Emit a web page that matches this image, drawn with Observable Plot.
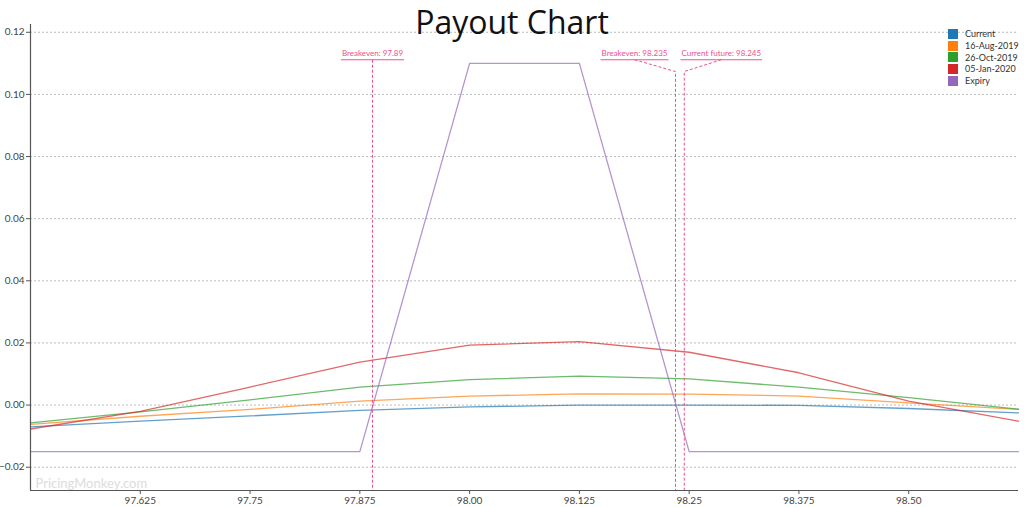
<!DOCTYPE html>
<html>
<head>
<meta charset="utf-8">
<script src="https://cdn.jsdelivr.net/npm/d3@7"></script>
<script src="https://cdn.jsdelivr.net/npm/@observablehq/plot@0.6"></script>
<style>
  html, body { margin: 0; padding: 0; background: #fff; }
  #wrap { position: relative; width: 1024px; height: 507px; overflow: hidden; }
  #title { position: absolute; left: 0; width: 1024px; top: 0px; text-align: center;
           font-family: "Open Sans", sans-serif; font-size: 32px; color: #111; pointer-events: none; }
  #legend { position: absolute; left: 948px; top: 28px; font-family: Lato, sans-serif; font-size: 9px; color: #333; }
  #legend .item { display: flex; align-items: center; height: 11.7px; }
  #legend .sw { width: 10px; height: 10px; margin-right: 7px; }
</style>
</head>
<body>
<div id="wrap">
  <div id="chart"></div>
  <div id="title">Payout Chart</div>
  <div id="legend"></div>
</div>
<script>
// ---- data ----
const strikes = [97.5, 97.625, 97.75, 97.875, 98.0, 98.125, 98.25, 98.375, 98.5, 98.625];
const seriesNames = ["Current", "16-Aug-2019", "26-Oct-2019", "05-Jan-2020", "Expiry"];
const seriesColors = ["#1f77b4", "#ff7f0e", "#2ca02c", "#d62728", "#9467bd"];
const current   = [-0.0070, -0.0052, -0.0035, -0.0017, -0.0006, 0.0000, 0.0000, -0.0001, -0.0011, -0.0025];
const aug2019   = [-0.0062, -0.0036, -0.0014,  0.0013,  0.0029, 0.0036, 0.0035,  0.0029,  0.0007, -0.0014];
const oct2019   = [-0.0057, -0.0022,  0.0017,  0.0058,  0.0082, 0.0093, 0.0084,  0.0058,  0.0024, -0.0013];
const jan2020   = [-0.0077, -0.0020,  0.0058,  0.0138,  0.0193, 0.0204, 0.0170,  0.0104,  0.0013, -0.0052];
const expiry    = [-0.015, -0.015, -0.015, -0.015, 0.11, 0.11, -0.015, -0.015, -0.015, -0.015];
const seriesValues = [current, aug2019, oct2019, jan2020, expiry];

const xTickValues = [97.625, 97.75, 97.875, 98.0, 98.125, 98.25, 98.375, 98.5];
const xTickLabels = ["97.625", "97.75", "97.875", "98.00", "98.125", "98.25", "98.375", "98.50"];
const yTickValues = [-0.02, 0.0, 0.02, 0.04, 0.06, 0.08, 0.10, 0.12];

const annX = [97.89, 98.235, 98.245];
const annLabels = ["Breakeven: 97.89", "Breakeven: 98.235", "Current future: 98.245"];
const annDx = [0, -41, 37];

const xDomain = [97.5, 98.625];
const yDomain = [-0.0275, 0.1225];

// ---- build table ----
const rows = [];
seriesNames.forEach((name, s) => {
  strikes.forEach((k, i) => rows.push({series: name, x: k, y: seriesValues[s][i]}));
});
const annotations = annX.map((x, i) => ({x, label: annLabels[i], dx: annDx[i]}));

const pink = "#f0508a";
const annFont = "8px Lato, sans-serif";
const measure = (() => {
  const ctx = document.createElement("canvas").getContext("2d");
  ctx.font = annFont;
  return t => ctx.measureText(t).width;
})();

function annotationMark(index, scales, values, dimensions) {
  const g = d3.create("svg:g");
  const bottom = dimensions.height - dimensions.marginBottom;
  const underlineY = scales.y(0.1110);
  const bendY = scales.y(0.1072);
  for (const a of annotations) {
    const x = scales.x(a.x);
    const lx = x + a.dx;
    const w = measure(a.label) + 2;
    g.append("text")
      .attr("x", lx).attr("y", underlineY - 4)
      .attr("text-anchor", "middle")
      .attr("fill", pink)
      .style("font", annFont)
      .text(a.label);
    g.append("line")
      .attr("x1", lx - w / 2).attr("x2", lx + w / 2)
      .attr("y1", underlineY).attr("y2", underlineY)
      .attr("stroke", pink).attr("stroke-width", 1.2);
    const path = a.dx === 0
      ? `M${x},${underlineY}V${bottom}`
      : `M${lx},${underlineY}L${x},${bendY}V${bottom}`;
    g.append("path")
      .attr("d", path)
      .attr("fill", "none")
      .attr("stroke", pink).attr("stroke-width", 1)
      .attr("stroke-dasharray", "3,2");
  }
  return g.node();
}

const plot = Plot.plot({
  width: 1024,
  height: 507,
  marginLeft: 30,
  marginRight: 6,
  marginTop: 24,
  marginBottom: 17,
  style: {fontFamily: "Lato, sans-serif", fontSize: "10px", color: "#444", background: "#fff"},
  x: {domain: xDomain, label: null},
  y: {domain: yDomain, label: null},
  color: {domain: seriesNames, range: seriesColors},
  marks: [
    Plot.gridY(yTickValues, {stroke: "#aaa", strokeOpacity: 0.8, strokeDasharray: "2,2"}),
    Plot.text(["PricingMonkey.com"], {frameAnchor: "bottom-left", dx: 5, dy: -3, fill: "#dcdcdc", fontSize: 13, textAnchor: "start"}),
    Plot.line(rows, {x: "x", y: "y", z: "series", stroke: "series", strokeWidth: 1.3, strokeOpacity: 0.7}),
    annotationMark,
    Plot.ruleX([xDomain[0]], {stroke: "#555", strokeWidth: 1.2}),
    Plot.ruleY([yDomain[0]], {stroke: "#555", strokeWidth: 1.2}),
    Plot.axisX({ticks: xTickValues, tickFormat: (d) => xTickLabels[xTickValues.indexOf(d)], tickSize: 4, tickPadding: 2, stroke: "#555"}),
    Plot.axisY({ticks: yTickValues, tickFormat: d3.format(".2f"), tickSize: 4, tickPadding: 2, stroke: "#555"})
  ]
});
document.getElementById("chart").appendChild(plot);

const legend = d3.select("#legend");
seriesNames.forEach((name, i) => {
  const item = legend.append("div").attr("class", "item");
  item.append("div").attr("class", "sw").style("background", seriesColors[i]);
  item.append("span").text(name);
});
</script>
</body>
</html>
